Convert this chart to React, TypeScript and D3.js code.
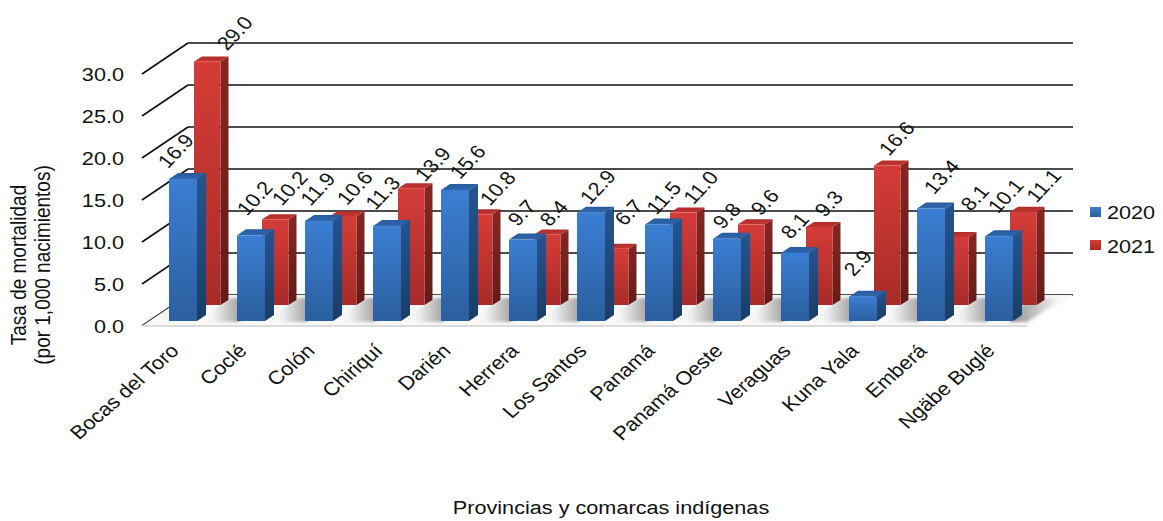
import React from 'react';
import * as d3 from 'd3';

const WIDTH = 1163;
const HEIGHT = 521;

const provincias = ['Bocas del Toro', 'Coclé', 'Colón', 'Chiriquí', 'Darién', 'Herrera', 'Los Santos', 'Panamá', 'Panamá Oeste', 'Veraguas', 'Kuna Yala', 'Emberá', 'Ngäbe Buglé'];
const tasa2020 = [16.9, 10.2, 11.9, 11.3, 15.6, 9.7, 12.9, 11.5, 9.8, 8.1, 2.9, 13.4, 10.1];
const tasa2021 = [29.0, 10.2, 10.6, 13.9, 10.8, 8.4, 6.7, 11.0, 9.6, 9.3, 16.6, 8.1, 11.1];
const yTicks = [0, 5, 10, 15, 20, 25, 30];

// las etiquetas están colocadas a mano en el original: desplazamiento desde la barra
const nudge2020 = [[-1.5, -24], [9.5, -33], [4.5, -28], [1.5, -29], [18.5, -24], [4.5, -22.5], [12.5, -21.6], [10.5, -22.4], [5.5, -18.7], [5.5, -23], [0.5, -29.6], [16.5, -27.4], [12.5, -36]];
const nudge2021 = [[57.5, -24], [44.5, -27], [41.5, -24], [51.5, -20], [48.5, -22], [36.5, -17], [43.5, -32], [47.5, -21], [43.5, -18], [39.5, -19], [39.5, -23], [49.5, -35], [50.5, -22]];

const FONT = '"Liberation Sans", Arial, sans-serif';
const STRETCH = 1.14; // la imagen original está estirada en horizontal

// pared del fondo
const y = d3.scaleLinear().domain([0, 30]).range([295, 43]);
const x = d3.scalePoint<string>().domain(provincias).range([183, 999]);

const WALL_LEFT = 188;
const WALL_RIGHT = 1073;
const FLOOR_DX = 46;
const FLOOR_DY = 31;

const line = d3.line();
const poly = (pts: [number, number][]) => line(pts) + 'Z';

interface BarProps {
  left: number;
  w: number;
  base: number;
  top: number;
  dx: number;
  dy: number;
  name: string;
}

const Bar = ({ left, w, base, top, dx, dy, name }: BarProps) => (
  <g>
    <path d={poly([[left + w, top], [left + w + dx, top - dy], [left + w + dx, base - dy], [left + w, base]])} fill={`url(#${name}Side)`} />
    <path d={poly([[left, top], [left + dx, top - dy], [left + w + dx, top - dy], [left + w, top]])} fill={`url(#${name}Top)`} />
    <rect x={left} y={top} width={w} height={base - top} fill={`url(#${name}Front)`} />
  </g>
);

const Txt = ({ tx, ty, rot = 0, anchor = 'middle', children }: any) => (
  <text
    transform={`translate(${tx},${ty}) scale(${STRETCH},1) rotate(${rot})`}
    textAnchor={anchor}
    fontFamily={FONT}
    fontSize={19}
    fill="#111"
  >
    {children}
  </text>
);

const Grad = ({ id, from, to }: { id: string; from: string; to: string }) => (
  <linearGradient id={id} x1="0" y1="0" x2="0" y2="1">
    <stop offset="0" stopColor={from} />
    <stop offset="1" stopColor={to} />
  </linearGradient>
);

export default function App() {
  const blueBase = y(0) + 26;
  const redBase = y(0) + 10;
  const px = (v: number) => y(0) - y(v);

  return (
    <svg width={WIDTH} height={HEIGHT} style={{ position: 'absolute', left: 0, top: 0, background: '#fff' }}>
      <defs>
        <Grad id="blueFront" from="#3b7ed3" to="#2b5f9e" />
        <Grad id="blueSide" from="#26548f" to="#1b3d68" />
        <Grad id="blueTop" from="#2a5c9e" to="#2f66ad" />
        <Grad id="redFront" from="#d43c38" to="#a82b28" />
        <Grad id="redSide" from="#872622" to="#651b18" />
        <Grad id="redTop" from="#b02e2a" to="#c23431" />
        <linearGradient id="shadow" x1="0" y1="0" x2="1" y2="0">
          <stop offset="0" stopColor="#ffffff" />
          <stop offset="0.3" stopColor="#f4f4f4" />
          <stop offset="0.75" stopColor="#9a9a9a" />
          <stop offset="1" stopColor="#808080" />
        </linearGradient>
        <linearGradient id="shadowEnd" x1="0" y1="0" x2="1" y2="0">
          <stop offset="0" stopColor="#8a8a8a" />
          <stop offset="1" stopColor="#ffffff" />
        </linearGradient>
        <filter id="soft"><feGaussianBlur stdDeviation="1.5" /></filter>
      </defs>

      {/* rejilla */}
      {yTicks.map(t => (
        <g key={t} stroke="#111" strokeWidth={1.6} fill="none">
          <line x1={WALL_LEFT} x2={WALL_RIGHT} y1={y(t)} y2={y(t)} />
          <line x1={WALL_LEFT - FLOOR_DX} x2={WALL_LEFT} y1={y(t) + FLOOR_DY} y2={y(t)} />
        </g>
      ))}

      {/* piso */}
      <path d={poly([[WALL_LEFT - FLOOR_DX, y(0) + FLOOR_DY], [WALL_LEFT, y(0)], [WALL_RIGHT, y(0)], [WALL_RIGHT - FLOOR_DX, y(0) + FLOOR_DY]])} fill="#f8f8f8" />
      <g filter="url(#soft)">
        {provincias.slice(0, -1).map(p => {
          const l = x(p)! + 10;
          return <path key={p} d={poly([[l, y(0) + 27], [l + 38, y(0) + 3], [l + 66, y(0) + 3], [l + 46, y(0) + 27]])} fill="url(#shadow)" />;
        })}
        <path d={poly([[x(provincias[12])! + 10, y(0) + 27], [x(provincias[12])! + 30, y(0) + 3], [WALL_RIGHT - 10, y(0) + 3], [WALL_RIGHT - 46, y(0) + 27]])} fill="url(#shadowEnd)" />
      </g>
      <line x1={WALL_LEFT - FLOOR_DX} x2={WALL_RIGHT - FLOOR_DX} y1={y(0) + FLOOR_DY} y2={y(0) + FLOOR_DY} stroke="#dcdcdc" strokeWidth={2} />

      {/* barras */}
      {provincias.map((p, i) => (
        <Bar key={p} name="red" left={x(p)! + 11} w={26.5} base={redBase} top={redBase - px(tasa2021[i])} dx={8} dy={5} />
      ))}
      {provincias.map((p, i) => (
        <Bar key={p} name="blue" left={x(p)! - 14} w={28} base={blueBase} top={blueBase - px(tasa2020[i])} dx={9} dy={6} />
      ))}

      {/* etiquetas de datos */}
      {provincias.map((p, i) => (
        <g key={p}>
          <Txt tx={x(p)! + nudge2020[i][0]} ty={blueBase - px(tasa2020[i]) + nudge2020[i][1]} rot={-50}>{tasa2020[i].toFixed(1)}</Txt>
          <Txt tx={x(p)! + nudge2021[i][0]} ty={redBase - px(tasa2021[i]) + nudge2021[i][1]} rot={-50}>{tasa2021[i].toFixed(1)}</Txt>
        </g>
      ))}

      {/* eje y */}
      {yTicks.map(t => (
        <Txt key={t} tx={124} ty={y(t) + FLOOR_DY + 7} anchor="end">{t.toFixed(1)}</Txt>
      ))}
      <Txt tx={26} ty={265} rot={-90}>Tasa de mortalidad</Txt>
      <Txt tx={50} ty={265} rot={-90}>(por 1,000 nacimientos)</Txt>

      {/* eje x */}
      {provincias.map(p => (
        <Txt key={p} tx={x(p)! - 3} ty={352} rot={-45} anchor="end">{p}</Txt>
      ))}
      <Txt tx={611} ty={514}>Provincias y comarcas indígenas</Txt>

      {/* leyenda */}
      <rect x={1090} y={207} width={11} height={10} fill="url(#blueFront)" />
      <Txt tx={1107} ty={219} anchor="start">2020</Txt>
      <rect x={1090} y={240} width={11} height={10} fill="url(#redFront)" />
      <Txt tx={1107} ty={253} anchor="start">2021</Txt>
    </svg>
  );
}
